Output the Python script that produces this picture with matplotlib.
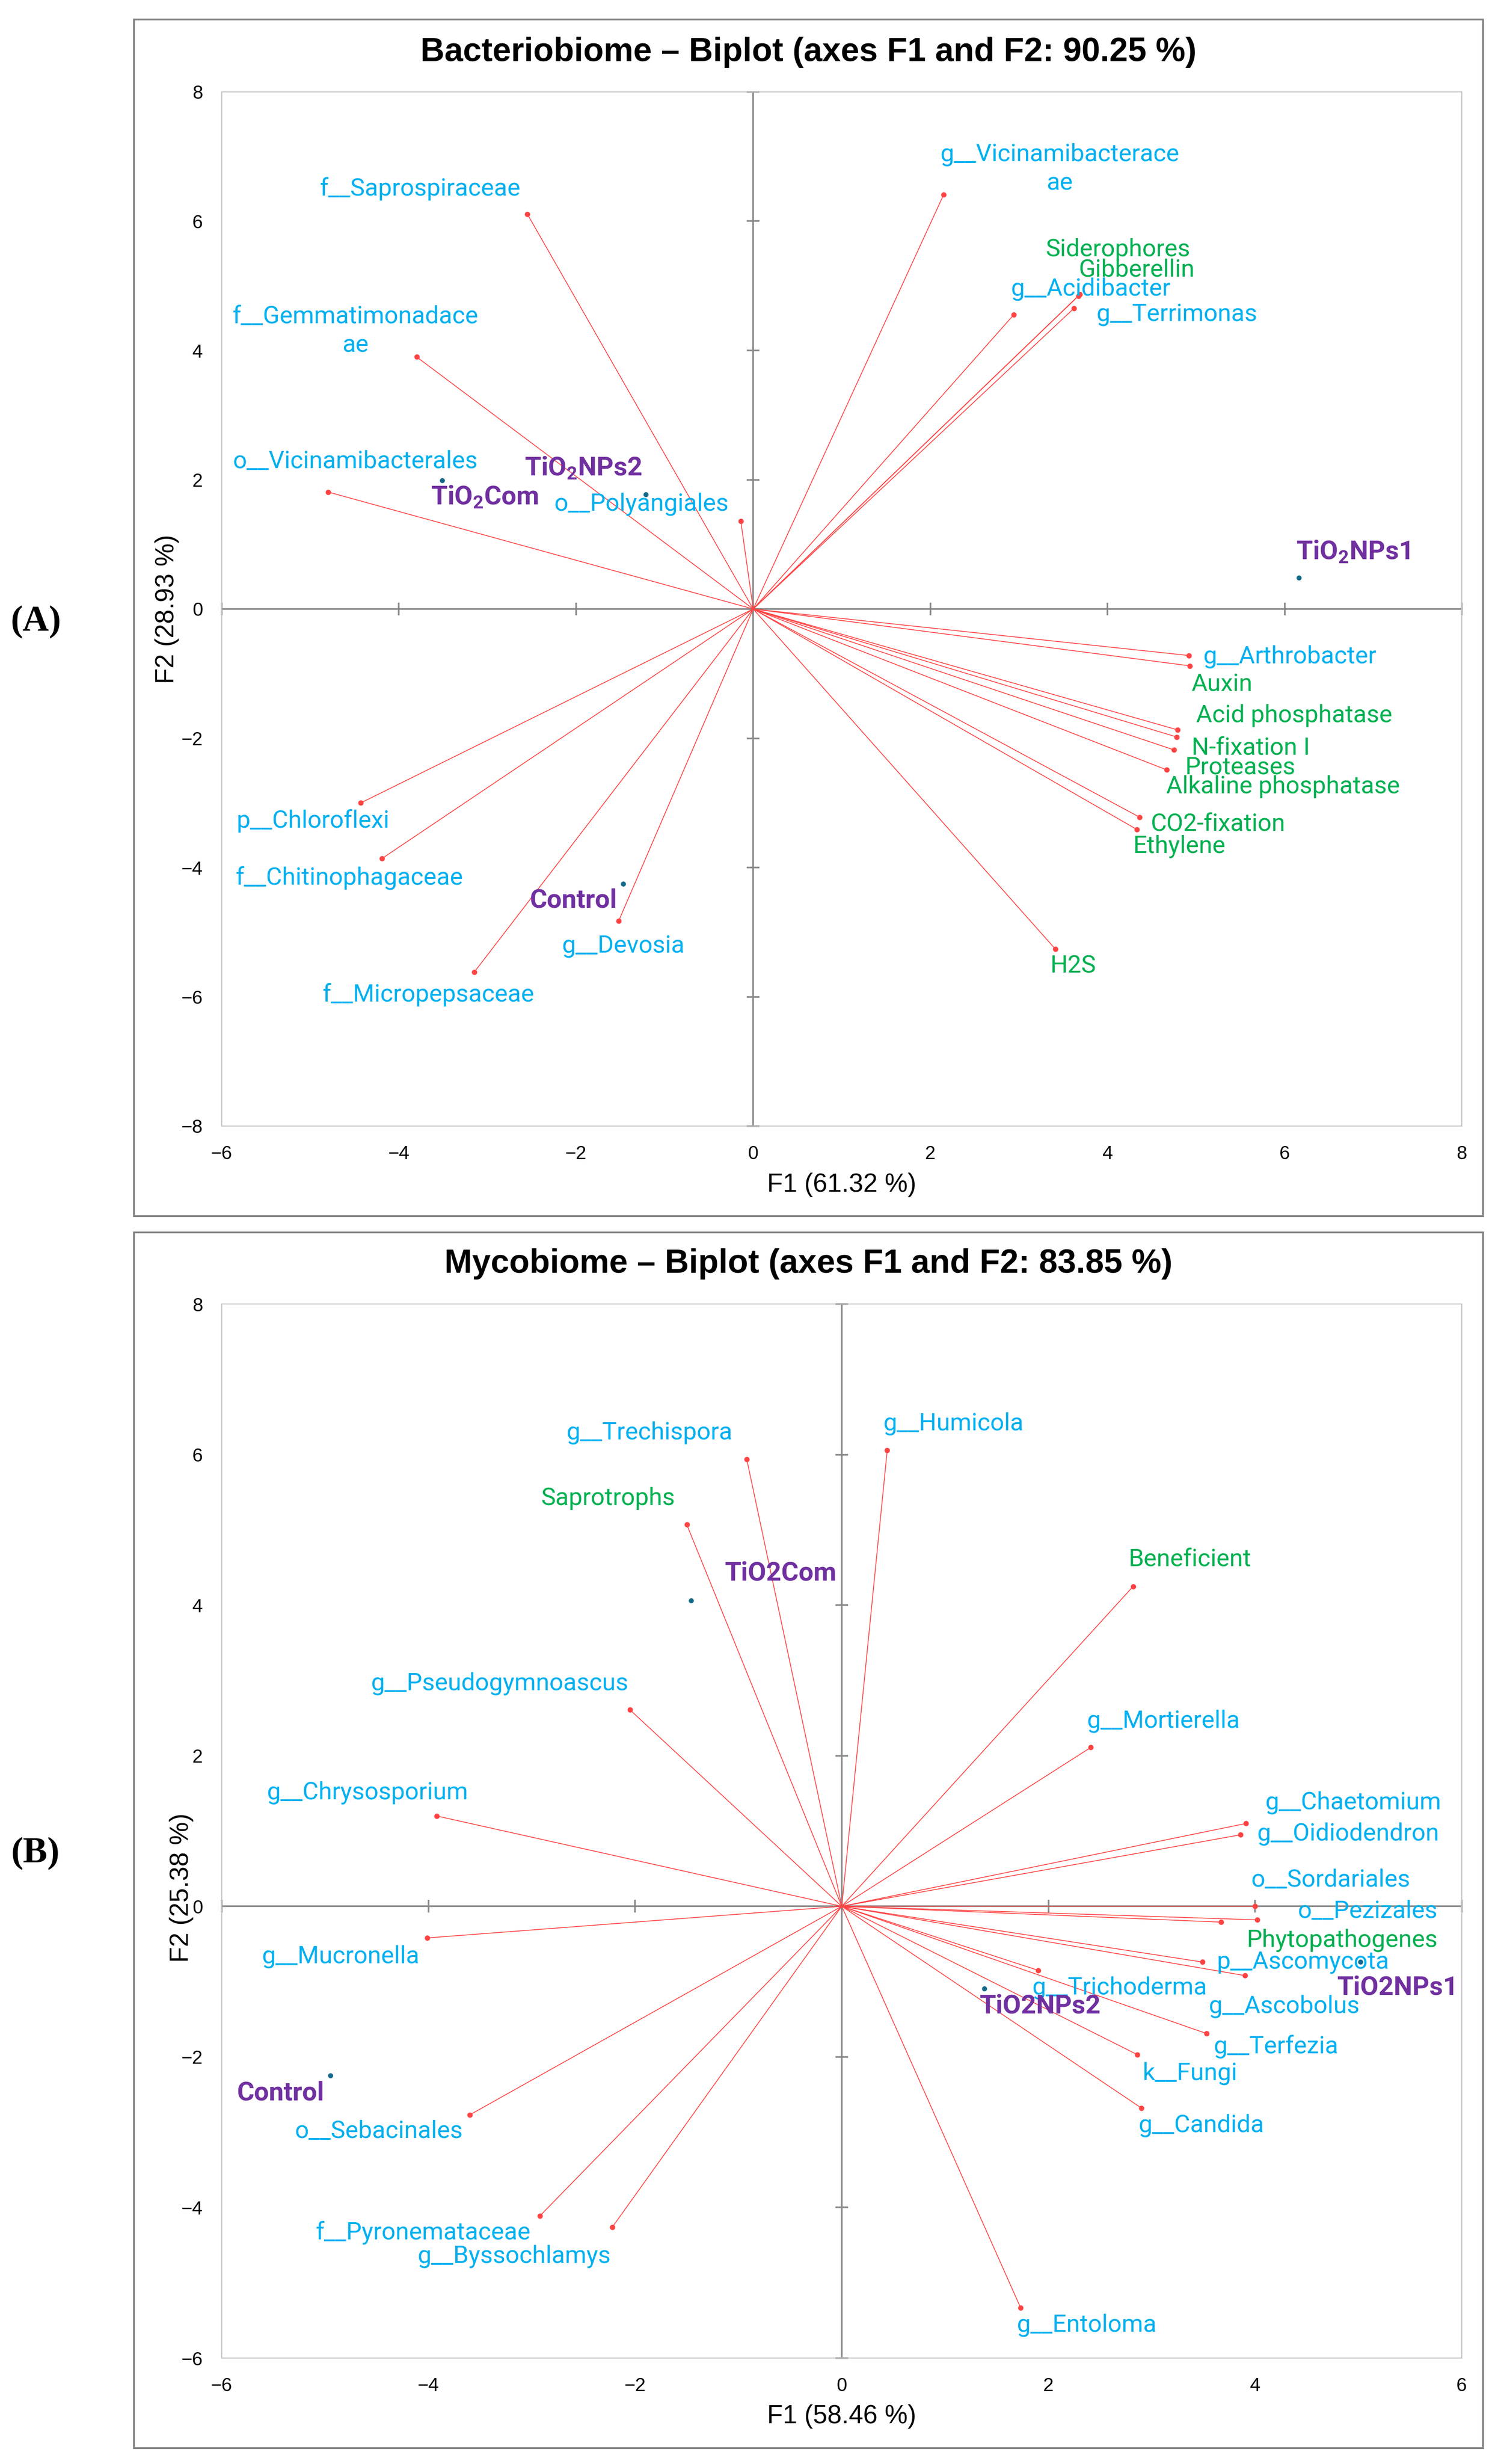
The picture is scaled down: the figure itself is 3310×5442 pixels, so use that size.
import matplotlib
matplotlib.use('Agg')
import matplotlib.pyplot as plt
from matplotlib.patches import Rectangle
import numpy as np

plt.rcParams['font.family'] = ['Roboto', 'DejaVu Sans']
plt.rcParams['mathtext.fontset'] = 'custom'
plt.rcParams['mathtext.rm'] = 'Roboto'
plt.rcParams['mathtext.bf'] = 'Roboto:bold'

# ---------------- Bacteriobiome (A) ----------------
bac_names = ['f__Saprospiraceae', 'f__Gemmatimonadaceae', 'o__Vicinamibacterales',
             'o__Polyangiales', 'g__Vicinamibacteraceae', 'g__Acidibacter',
             'Siderophores', 'Gibberellin', 'g__Terrimonas', 'g__Arthrobacter',
             'Auxin', 'Acid phosphatase', 'N-fixation I', 'Proteases',
             'Alkaline phosphatase', 'CO2-fixation', 'Ethylene', 'H2S',
             'p__Chloroflexi', 'f__Chitinophagaceae', 'f__Micropepsaceae', 'g__Devosia']
bac_f1 = [-2.55, -3.80, -4.80, -0.14, 2.15, 2.94, 3.69, 3.67, 3.62, 4.92,
          4.93, 4.79, 4.78, 4.75, 4.67, 4.36, 4.33, 3.41, -4.43, -4.19, -3.15, -1.52]
bac_f2 = [6.11, 3.90, 1.81, 1.36, 6.41, 4.55, 4.87, 4.84, 4.65, -0.72,
          -0.88, -1.87, -1.98, -2.18, -2.49, -3.22, -3.41, -5.26, -3.00, -3.86, -5.62, -4.83]
bac_functions = ['Siderophores', 'Gibberellin', 'Auxin', 'Acid phosphatase', 'N-fixation I',
                 'Proteases', 'Alkaline phosphatase', 'CO2-fixation', 'Ethylene', 'H2S']
bac_trt = ['TiO$_\\mathbf{2}$Com', 'TiO$_\\mathbf{2}$NPs2', 'TiO$_\\mathbf{2}$NPs1', 'Control']
bac_trt_f1 = [-3.51, -1.21, 6.16, -1.47]
bac_trt_f2 = [1.99, 1.77, 0.48, -4.25]

# label anchors (data units, text centre)
bac_lab_x = [-3.76, -4.49, -4.49, -1.26, 3.46, 3.81, 4.12, 4.33, 4.78, 6.06,
             5.29, 6.11, 5.62, 5.50, 5.98, 5.25, 4.81, 3.61, -4.97, -4.56, -3.67, -1.47]
bac_lab_y = [6.50, 4.30, 2.28, 1.62, 6.81, 4.95, 5.56, 5.25, 4.55, -0.74,
             -1.17, -1.65, -2.15, -2.45, -2.75, -3.33, -3.67, -5.53, -3.28, -4.16, -5.97, -5.22]
bac_trt_lab_x = [-3.03, -1.92, 6.77, -2.03]
bac_trt_lab_y = [1.73, 2.18, 0.88, -4.51]

# ---------------- Mycobiome (B) ----------------
myc_names = ['g__Trechispora', 'Saprotrophs', 'g__Humicola', 'Beneficient',
             'g__Pseudogymnoascus', 'g__Mortierella', 'g__Chrysosporium', 'g__Chaetomium',
             'g__Oidiodendron', 'o__Sordariales', 'o__Pezizales', 'Phytopathogenes',
             'p__Ascomycota', 'g__Ascobolus', 'g__Trichoderma', 'g__Terfezia', 'k__Fungi',
             'g__Candida', 'g__Entoloma', 'g__Mucronella', 'o__Sebacinales',
             'f__Pyronemataceae', 'g__Byssochlamys']
myc_f1 = [-0.92, -1.50, 0.44, 2.82, -2.05, 2.41, -3.92, 3.91, 3.86, 4.00, 4.02, 3.67,
          3.49, 3.90, 1.90, 3.53, 2.86, 2.90, 1.73, -4.01, -3.60, -2.92, -2.22]
myc_f2 = [5.94, 5.07, 6.06, 4.25, 2.61, 2.11, 1.20, 1.10, 0.95, 0.00, -0.18, -0.21,
          -0.74, -0.92, -0.85, -1.69, -1.97, -2.68, -5.33, -0.42, -2.77, -4.11, -4.26]
myc_functions = ['Saprotrophs', 'Beneficient', 'Phytopathogenes']
myc_trt = ['TiO2Com', 'TiO2NPs2', 'TiO2NPs1', 'Control']
myc_trt_f1 = [-1.46, 1.38, 5.02, -4.95]
myc_trt_f2 = [4.06, -1.09, -0.74, -2.25]

myc_lab_x = [-1.86, -2.26, 1.08, 3.37, -3.31, 3.11, -4.59, 4.95, 4.90, 4.73, 5.09, 4.84,
             4.46, 4.28, 2.69, 4.20, 3.37, 3.48, 2.37, -4.85, -4.48, -4.05, -3.17]
myc_lab_y = [6.29, 5.42, 6.41, 4.61, 2.96, 2.46, 1.51, 1.38, 0.96, 0.35, -0.07, -0.45,
             -0.74, -1.33, -1.08, -1.86, -2.22, -2.91, -5.56, -0.67, -2.99, -4.33, -4.65]
myc_trt_lab_x = [-0.59, 1.92, 5.38, -5.43]
myc_trt_lab_y = [4.42, -1.33, -1.08, -2.48]

# wrapped names as shown in the chart
wrapped = {'f__Gemmatimonadaceae': 'f__Gemmatimonadace\nae',
           'g__Vicinamibacteraceae': 'g__Vicinamibacterace\nae'}

RED = '#FF4343'
BLUE = '#00B0F0'
GREEN = '#00B050'
PURPLE = '#7030A0'
DOT = '#12698A'
AXGREY = '#888888'

W, H = 3310, 5442


def plot_biplot(ax, names, f1, f2, lab_x, lab_y, functions,
                trt, trt_f1, trt_f2, trt_lx, trt_ly, xlim, ylim, xticks, yticks):
    '''
    Draw one XLSTAT-like biplot: variable vectors from origin + observation dots
    '''
    ax.set_xlim(*xlim)
    ax.set_ylim(*ylim)
    ax.set_xticks(xticks)
    ax.set_yticks(yticks)
    ax.set_xticklabels([str(t).replace('-', '\u2212') for t in xticks],
                       family='Liberation Sans', fontsize=30)
    ax.set_yticklabels([str(t).replace('-', '\u2212') for t in yticks],
                       family='Liberation Sans', fontsize=30)
    ax.tick_params(length=0, pad=30)
    for sp in ax.spines.values():
        sp.set_color('#C4C4C4')
        sp.set_linewidth(1.6)

    # zero lines with small cross ticks
    ax.axhline(0, color=AXGREY, lw=2.6, zorder=1)
    ax.axvline(0, color=AXGREY, lw=2.6, zorder=1)
    ax.plot(xticks, np.zeros(len(xticks)), ls='none', marker='|', ms=20, mew=2.6,
            color=AXGREY, zorder=1, clip_on=False)
    ax.plot(np.zeros(len(yticks)), yticks, ls='none', marker='_', ms=20, mew=2.6,
            color=AXGREY, zorder=1, clip_on=False)

    for name, x, y, lx, ly in zip(names, f1, f2, lab_x, lab_y):
        ax.plot([0, x], [0, y], color=RED, lw=1.3, zorder=3)
        ax.plot(x, y, 'o', ms=8.5, color=RED, mec='none', zorder=4)
        col = GREEN if name in functions else BLUE
        ax.text(lx, ly, wrapped.get(name, name), color=col, fontsize=39,
                ha='center', va='center', linespacing=1.3, zorder=5)

    ax.plot(trt_f1, trt_f2, 'o', ls='none', ms=8, color=DOT, mec='none', zorder=4)
    for name, lx, ly in zip(trt, trt_lx, trt_ly):
        ax.text(lx, ly, name, color=PURPLE, fontsize=42, fontweight='bold',
                ha='center', va='center', zorder=5)


fig = plt.figure(figsize=(W / 100, H / 100), dpi=100)

ax1 = fig.add_axes([490 / W, 1 - 2487 / H, 2740 / W, 2284 / H])
plot_biplot(ax1, bac_names, bac_f1, bac_f2, bac_lab_x, bac_lab_y, bac_functions,
            bac_trt, bac_trt_f1, bac_trt_f2, bac_trt_lab_x, bac_trt_lab_y,
            (-6, 8), (-8, 8), [-6, -4, -2, 0, 2, 4, 6, 8], [-8, -6, -4, -2, 0, 2, 4, 6, 8])

ax2 = fig.add_axes([490 / W, 1 - 5208 / H, 2740 / W, 2328 / H])
plot_biplot(ax2, myc_names, myc_f1, myc_f2, myc_lab_x, myc_lab_y, myc_functions,
            myc_trt, myc_trt_f1, myc_trt_f2, myc_trt_lab_x, myc_trt_lab_y,
            (-6, 6), (-6, 8), [-6, -4, -2, 0, 2, 4, 6], [-6, -4, -2, 0, 2, 4, 6, 8])

# panel frames
for top, bot in [(43, 2686), (2722, 5407)]:
    fig.patches.append(Rectangle((296 / W, 1 - bot / H), 2981 / W, (bot - top) / H,
                                 transform=fig.transFigure, fill=False,
                                 edgecolor='#808080', linewidth=2.8))

# titles, axis titles, panel letters
title_kw = dict(family='Liberation Sans', fontsize=53, fontweight='bold', ha='center', va='center')
fig.text(1786 / W, 1 - 115 / H, 'Bacteriobiome \u2013 Biplot (axes F1 and F2: 90.25 %)', **title_kw)
fig.text(1786 / W, 1 - 2792 / H, 'Mycobiome \u2013 Biplot (axes F1 and F2: 83.85 %)', **title_kw)

lab_kw = dict(family='Liberation Sans', fontsize=41, ha='center', va='center')
fig.text(1860 / W, 1 - 2617 / H, 'F1 (61.32 %)', **lab_kw)
fig.text(1860 / W, 1 - 5337 / H, 'F1 (58.46 %)', **lab_kw)
fig.text(369 / W, 1 - 1345 / H, 'F2 (28.93 %)', rotation=90, **lab_kw)
fig.text(401 / W, 1 - 4169 / H, 'F2 (25.38 %)', rotation=90, **lab_kw)

letter_kw = dict(family='Liberation Serif', fontsize=58, fontweight='bold', ha='center', va='center')
fig.text(79 / W, 1 - 1374 / H, '(A)', **letter_kw)
fig.text(78 / W, 1 - 4094 / H, '(B)', **letter_kw)

fig.savefig('out.png', dpi=100, facecolor='white')
